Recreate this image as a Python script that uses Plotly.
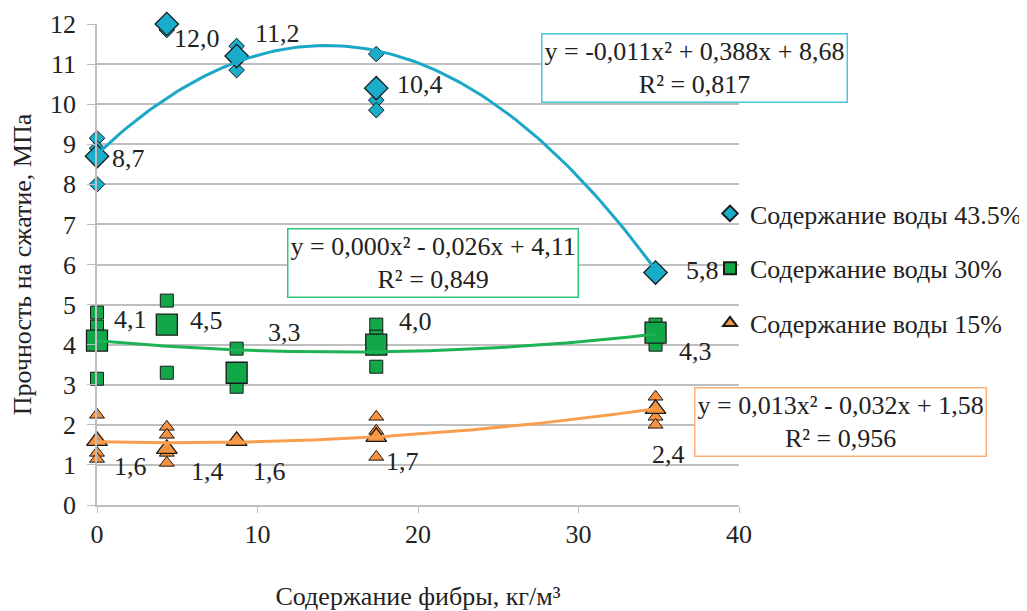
import numpy as np
import plotly.graph_objects as go

# ---------------- data ----------------
fiber = [0, 4.35, 8.7, 17.4, 34.8]

blue_name = "Содержание воды 43.5%"
blue_x = [0, 0, 0, 0, 4.35, 4.35, 8.7, 8.7, 8.7, 8.7, 17.4, 17.4, 17.4, 34.8]
blue_y = [9.15, 8.9, 8.65, 8.0, 12.0, 11.85, 11.45, 11.25, 11.1, 10.85, 11.25, 10.1, 9.85, 5.8]
blue_mean = [8.7, 12.0, 11.2, 10.4, 5.8]
blue_trend = [-0.0133, 0.38, 8.75]          # quadratic trendline as drawn (a, b, c)
blue_eq = ["y = -0,011x² + 0,388x + 8,68", "R² = 0,817"]

green_name = "Содержание воды 30%"
green_x = [0, 0, 0, 4.35, 4.35, 8.7, 8.7, 8.7, 17.4, 17.4, 17.4, 34.8, 34.8]
green_y = [4.8, 4.45, 3.15, 5.1, 3.3, 3.9, 3.2, 2.95, 4.5, 4.2, 3.45, 4.5, 4.0]
green_mean = [4.1, 4.5, 3.3, 4.0, 4.3]
green_trend = [0.0012, -0.037, 4.1]
green_eq = ["y = 0,000x² - 0,026x + 4,11", "R² = 0,849"]

orange_name = "Содержание воды 15%"
orange_x = [0, 0, 0, 0, 4.35, 4.35, 4.35, 4.35, 17.4, 17.4, 17.4, 34.8, 34.8, 34.8, 34.8]
orange_y = [2.25, 1.65, 1.3, 1.15, 1.95, 1.75, 1.3, 1.05, 2.2, 1.85, 1.2, 2.7, 2.45, 2.2, 2.0]
orange_mean = [1.6, 1.4, 1.6, 1.7, 2.4]
orange_trend = [0.00096, -0.0098, 1.58]
orange_eq = ["y = 0,013x² - 0,032x + 1,58", "R² = 0,956"]

x_title = "Содержание фибры, кг/м³"
y_title = "Прочность на сжатие, МПа"

# ---------------- style ----------------
FONT = "Liberation Serif"
FS = 26
TXT = "#222222"
OFF = 8                      # page body margin of the html page
W, H = 1027 - OFF, 611 - OFF
PL, PR, PT, PB = 97, 739, 24, 505   # plot area in screen pixels
L, R, T, B = PL - OFF, W - (PR - OFF), PT - OFF, H - (PB - OFF)

def pxx(p):
    return (p - PL) / (PR - PL)

def pxy(p):
    return (PB - p) / (PB - PT)

series = [
    dict(name=blue_name, x=blue_x, y=blue_y, mean=blue_mean, eq=blue_eq, trend=blue_trend,
         sym="diamond", fill="#1AADCB", line="#1BA8C6", box="#4CC6DF",
         s=12, sm=18, box_c=(694, 68),
         offs=[(31, -2), (30, -14), (41, 23), (44, 4), (47, 2)]),
    dict(name=green_name, x=green_x, y=green_y, mean=green_mean, eq=green_eq, trend=green_trend,
         sym="square", fill="#12A84A", line="#1DB352", box="#2CC57A",
         s=13, sm=21, box_c=(433, 263),
         offs=[(33, 21), (40, 4), (48, 40), (39, 23), (40, -19)]),
    dict(name=orange_name, x=orange_x, y=orange_y, mean=orange_mean, eq=orange_eq, trend=orange_trend,
         sym="triangle-up", fill="#F7923E", line="#F99E4E", box="#F9B07A",
         s=13, sm=18, box_c=(841, 422),
         offs=[(33, -26), (41, -23), (33, -31), (26, -25), (13, -46)]),
]

fig = go.Figure()
annotations = []

for i, s in enumerate(series):
    fig.add_trace(go.Scatter(
        x=s["x"], y=s["y"], mode="markers", name=s["name"],
        legendgroup=f"g{i}",
        marker=dict(symbol=s["sym"], size=s["s"], color=s["fill"],
                    line=dict(color="#1a1a1a", width=1)),
        cliponaxis=False))
    fig.add_trace(go.Scatter(
        x=fiber, y=s["mean"], mode="markers", showlegend=False,
        legendgroup=f"g{i}",
        marker=dict(symbol=s["sym"], size=s["sm"], color=s["fill"],
                    line=dict(color="#1a1a1a", width=1.3)),
        cliponaxis=False))
    xs = np.linspace(min(fiber), max(fiber), 120)
    fig.add_trace(go.Scatter(
        x=xs, y=np.polyval(s["trend"], xs), mode="lines", showlegend=False,
        hoverinfo="skip", line=dict(color=s["line"], width=3),
        cliponaxis=False))
    for xv, yv, (dx, dy) in zip(fiber, s["mean"], s["offs"]):
        annotations.append(dict(
            x=xv, y=yv, xref="x", yref="y", showarrow=False,
            text=f"{yv:.1f}".replace(".", ","), xshift=dx, yshift=dy,
            font=dict(family=FONT, size=FS, color=TXT)))
    bx, by = s["box_c"]
    annotations.append(dict(
        x=pxx(bx), y=pxy(by), xref="paper", yref="paper", showarrow=False,
        xanchor="center", yanchor="middle", align="center",
        text="<br>".join(s["eq"]), bgcolor="white",
        bordercolor=s["box"], borderwidth=1.5, borderpad=2,
        font=dict(family=FONT, size=FS, color=TXT)))

fig.update_layout(
    width=W, height=H, template="none",
    margin=dict(l=L, r=R, t=T, b=B, autoexpand=False),
    paper_bgcolor="white", plot_bgcolor="white",
    font=dict(family=FONT, size=FS, color=TXT),
    showlegend=True,
    legend=dict(xref="container", yref="container",
                x=(710 - OFF) / W, y=1 - (190 - OFF) / H,
                xanchor="left", yanchor="top",
                tracegroupgap=18, bgcolor="rgba(0,0,0,0)",
                font=dict(family=FONT, size=FS, color=TXT),
                itemsizing="constant"),
    annotations=annotations,
    xaxis=dict(range=[0, 40], dtick=10, showgrid=False, zeroline=False,
               automargin=False,
               showline=True, linecolor="#BFBFBF", linewidth=1.5,
               ticks="outside", ticklen=6, tickcolor="#BFBFBF",
               ticklabelstandoff=-1,
               tickfont=dict(family=FONT, size=FS, color=TXT),
               title=dict(text=x_title, standoff=41,
                          font=dict(family=FONT, size=FS, color=TXT))),
    yaxis=dict(range=[0, 12], dtick=1, showgrid=True, gridcolor="#BFBFBF",
               gridwidth=1.5, zeroline=False, automargin=False,
               showline=True, linecolor="#BFBFBF", linewidth=1.5,
               ticks="outside", ticklen=8, tickcolor="#BFBFBF",
               ticklabelstandoff=6,
               tickfont=dict(family=FONT, size=FS, color=TXT),
               title=dict(text=y_title, standoff=20,
                          font=dict(family=FONT, size=FS, color=TXT))),
)

fig.write_html("out.html")
